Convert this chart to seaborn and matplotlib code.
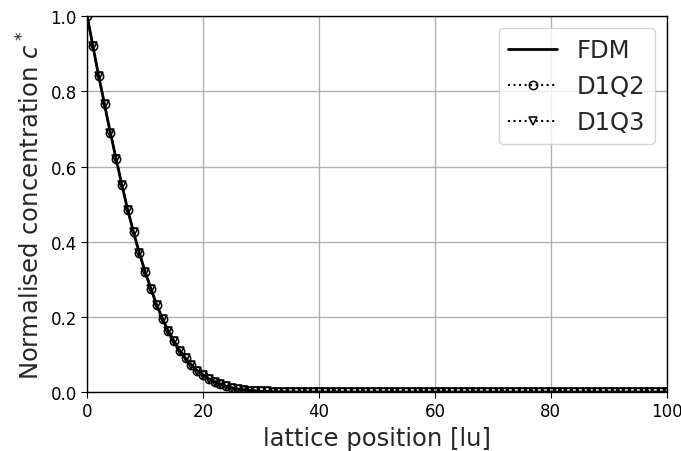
import numpy as np
import seaborn as sns
import matplotlib.pyplot as plt

# lattice positions 0..100
positions = list(range(101))

# concentration profile
head = [1.0, 0.92, 0.84, 0.765, 0.69, 0.62, 0.55, 0.485, 0.425, 0.37,
        0.32, 0.275, 0.232, 0.195, 0.162, 0.135, 0.11, 0.09, 0.072, 0.057,
        0.045, 0.035, 0.027, 0.02, 0.015, 0.011, 0.008, 0.006, 0.004, 0.003,
        0.002, 0.0015, 0.001, 0.0007, 0.0005, 0.0003]
tail = [0.0] * (101 - len(head))
c_fdm = head + tail
c_d1q2 = list(c_fdm)
c_d1q3 = list(c_fdm)

sns.set_style('ticks')
plt.rcParams['font.family'] = ['DejaVu Sans']

fig = plt.figure(figsize=(6.81, 4.52), dpi=100)
ax = fig.add_axes([0.128, 0.1305, 0.851, 0.8315])

sns.lineplot(x=positions, y=c_d1q2, ax=ax, color='k', linestyle=':', marker='o',
             markersize=6, markerfacecolor='none', markeredgecolor='k',
             markeredgewidth=1.1, label='D1Q2')
sns.lineplot(x=positions, y=c_d1q3, ax=ax, color='k', linestyle=':', marker='v',
             markersize=6, markerfacecolor='none', markeredgecolor='k',
             markeredgewidth=1.1, label='D1Q3')
sns.lineplot(x=positions, y=c_fdm, ax=ax, color='k', linewidth=2, label='FDM')

handles, labels = ax.get_legend_handles_labels()
order = [2, 0, 1]
ax.legend([handles[i] for i in order], [labels[i] for i in order],
          fontsize=17.5, loc='upper right', framealpha=0.8)

ax.set_xlim(0, 100)
ax.set_ylim(0, 1.0)
ax.grid(True, color='#b0b0b0', linewidth=1)
ax.set_axisbelow(True)
for s in ax.spines.values():
    s.set_color('k')
    s.set_linewidth(1)
ax.tick_params(labelsize=12, colors='k', length=4)
ax.set_xlabel('lattice position [lu]', fontsize=17.5)
ax.set_ylabel('Normalised concentration $c^*$', fontsize=17.5)

fig.savefig('out.png', dpi=100)
